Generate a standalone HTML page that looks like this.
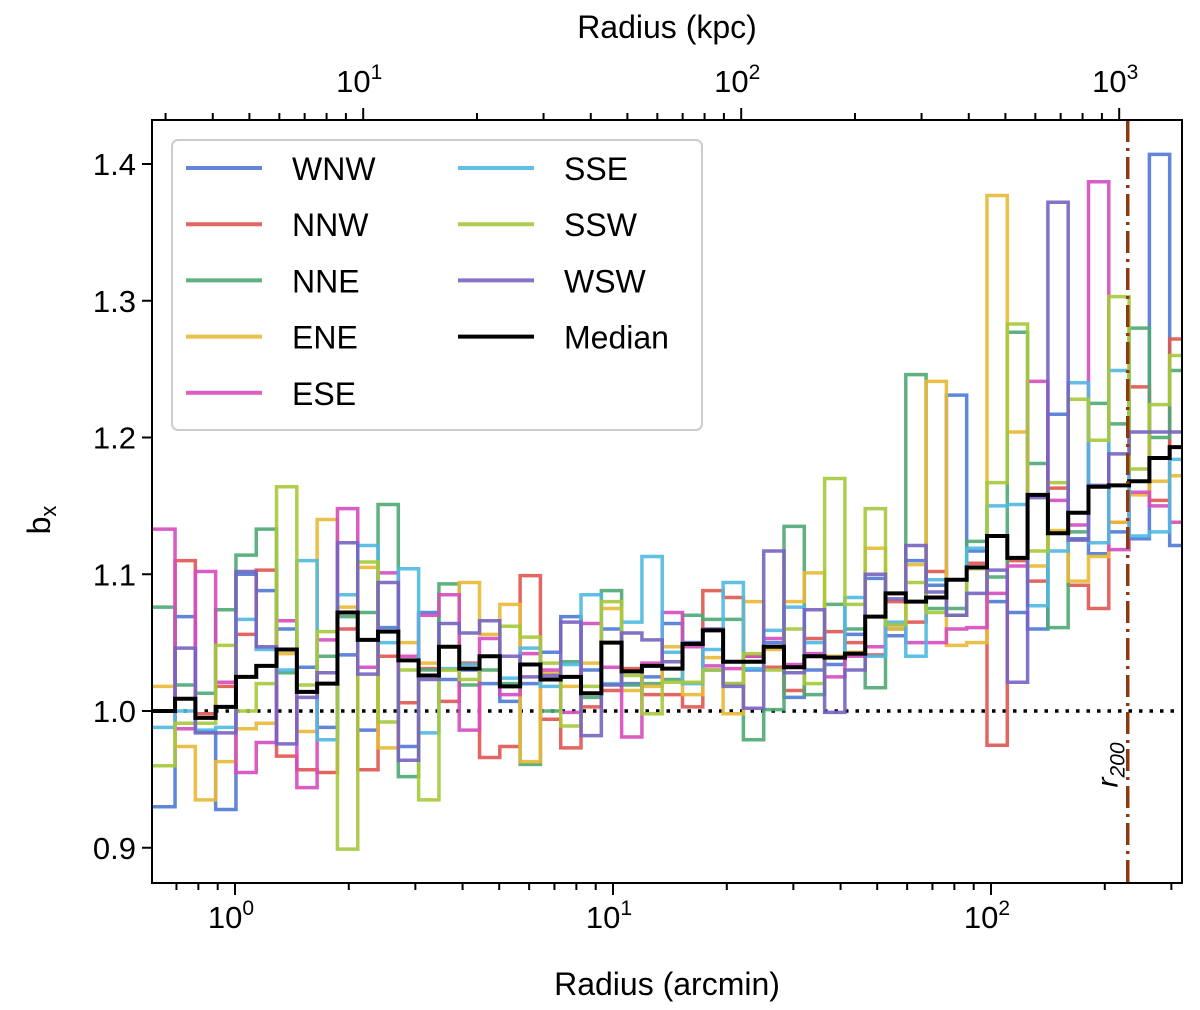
<!DOCTYPE html>
<html><head><meta charset="utf-8">
<style>
html,body{margin:0;padding:0;background:#fff;}
svg{display:block;font-family:"Liberation Sans",sans-serif;}
</style></head>
<body>
<svg id="chart" width="1200" height="1010" viewBox="0 0 1200 1010" xmlns="http://www.w3.org/2000/svg">
<defs><clipPath id="plotclip"><rect x="152" y="120" width="1030" height="763"/></clipPath></defs>
<g id="series" clip-path="url(#plotclip)"></g>
<g id="axes"></g>
</svg>
<script>
// bin edges (log10 arcmin)
const binStartLog = -0.266;
const binStepLog = 0.0537;
const nBins = 52;
const seriesNames = ["WNW","NNW","NNE","ENE","ESE","SSE","SSW","WSW","Median"];
const seriesColors = ["#4e79d4","#e0564f","#4ea874","#e9b935","#d54bbf","#4fb8e2","#a6c93a","#7763c0","#000000"];
const WNW = [0.93,0.93,1.069,0.985,0.928,1.10,1.088,1.06,1.032,0.988,1.041,0.986,1.061,0.974,1.072,1.023,1.03,1.02,1.007,1.02,1.043,1.069,1.03,1.06,1.02,1.025,1.064,1.05,1.03,1.02,1.03,1.05,1.01,1.03,1.034,1.056,1.097,1.055,1.11,1.092,1.231,1.117,1.08,1.072,1.06,1.217,1.126,1.115,1.131,1.126,1.407,1.121];
const NNW = [1.0,1.0,1.11,0.998,1.018,1.056,1.103,0.967,0.957,0.955,1.06,0.957,1.04,1.006,1.031,1.007,1.035,0.966,0.974,1.099,0.994,0.973,1.003,1.015,1.031,1.012,1.012,1.003,1.088,1.083,1.04,1.032,1.015,1.053,1.058,1.05,1.041,1.08,1.065,1.102,1.07,1.108,0.975,1.11,1.095,1.163,1.092,1.075,1.138,1.237,1.154,1.272];
const NNE = [1.076,1.076,1.019,1.013,1.074,1.114,1.133,1.028,1.014,1.04,1.069,1.072,1.151,0.952,1.03,1.093,1.019,1.03,1.02,0.961,1.0,1.036,1.01,1.088,1.019,1.02,1.023,1.07,1.067,1.067,0.979,1.001,1.135,1.012,1.078,1.06,1.017,1.06,1.246,1.075,1.075,1.124,1.098,1.277,1.181,1.061,1.131,1.225,1.21,1.28,1.2,1.249];
const ENE = [1.018,1.018,0.974,0.935,0.963,0.987,0.991,1.042,0.985,1.14,1.076,1.105,0.973,1.05,1.035,1.03,1.094,1.056,1.078,0.963,1.028,1.018,1.035,1.075,1.015,1.018,1.047,1.012,1.039,0.998,1.08,1.045,1.08,1.101,1.04,1.043,1.119,1.06,1.107,1.241,1.048,1.05,1.377,1.204,1.106,1.132,1.095,1.113,1.138,1.158,1.168,1.172];
const ESE = [1.133,1.133,0.987,1.102,1.021,0.955,0.977,1.066,0.944,1.052,1.148,1.032,1.101,1.04,1.07,1.085,0.986,1.053,1.012,1.042,1.03,0.999,1.064,1.032,0.981,1.035,1.072,1.047,1.033,1.031,1.04,1.053,1.034,1.042,1.025,1.04,1.047,1.063,1.05,1.05,1.06,1.061,1.086,1.106,1.241,1.154,1.136,1.387,1.118,1.16,1.15,1.138];
const SSE = [0.988,0.988,1.0,0.986,0.988,1.067,1.045,1.03,1.11,0.979,1.085,1.121,1.05,1.104,0.984,1.031,1.034,1.04,1.024,1.046,1.018,1.034,1.085,1.02,1.065,1.113,1.043,1.02,1.045,1.094,1.031,1.059,1.076,1.05,1.039,1.083,1.04,1.065,1.04,1.096,1.07,1.119,1.15,1.151,1.077,1.117,1.24,1.123,1.249,1.128,1.131,1.184];
const SSW = [0.96,0.96,0.991,0.991,1.048,1.0,1.02,1.164,1.019,1.058,0.899,1.109,0.992,1.03,0.935,1.03,1.023,1.04,1.062,1.054,1.035,0.989,1.018,1.08,1.026,0.998,1.021,1.021,1.03,1.02,1.042,1.03,1.06,1.02,1.17,1.078,1.148,1.063,1.094,1.072,1.07,1.104,1.167,1.283,1.117,1.167,1.228,1.198,1.303,1.177,1.224,1.26];
const WSW = [1.0,1.0,1.046,0.984,0.984,1.102,1.047,0.976,1.01,1.028,1.123,1.027,1.094,0.964,1.023,1.064,1.057,1.066,1.04,1.025,1.026,1.065,0.982,1.019,1.057,1.052,1.036,1.05,1.06,1.018,1.002,1.117,1.028,1.074,0.999,1.03,1.1,1.082,1.121,1.087,1.07,1.086,1.103,1.021,1.156,1.372,1.125,1.165,1.188,1.204,1.204,1.204];
const Median = [1.0,1.0,1.009,0.995,1.003,1.025,1.033,1.045,1.014,1.02,1.072,1.052,1.058,1.037,1.026,1.047,1.031,1.04,1.018,1.034,1.023,1.025,1.013,1.05,1.029,1.033,1.031,1.049,1.059,1.036,1.036,1.047,1.032,1.04,1.039,1.042,1.069,1.086,1.08,1.083,1.096,1.105,1.128,1.112,1.158,1.13,1.145,1.164,1.165,1.168,1.185,1.193];
const yTicks = [0.9,1.0,1.1,1.2,1.3,1.4];
const yTickLabels = ["0.9","1.0","1.1","1.2","1.3","1.4"];
const xMajorExps = [0,1,2];
const topMajorExps = [1,2,3];
const r200Arcmin = 230;
const kpcPerArcmin = 4.58;

const allSeries = [WNW,NNW,NNE,ENE,ESE,SSE,SSW,WSW,Median];
const NS = "http://www.w3.org/2000/svg";
const L = 152, R = 1182, T = 120, B = 883;
function xLog(lg){ return 235 + 378*lg; }
function xScale(a){ return xLog(Math.log10(a)); }
function yScale(v){ return 711 - (v-1.0)*1367.5; }
function mk(tag, attrs, parent){ const e=document.createElementNS(NS,tag); for(const k in attrs) e.setAttribute(k,attrs[k]); parent.appendChild(e); return e; }

const sg = document.getElementById('series');
const ag = document.getElementById('axes');

const ref = mk('line',{x1:L,x2:R,y1:yScale(1),y2:yScale(1),stroke:'#000','stroke-width':3.5,'stroke-dasharray':'3.5 7'},sg);



allSeries.forEach((vals,si)=>{
  let d='';
  for(let k=0;k<vals.length;k++){
    const x0 = xLog(binStartLog + binStepLog*k), x1 = xLog(binStartLog + binStepLog*(k+1));
    const y = yScale(vals[k]);
    d += (k===0 ? 'M'+x0+' '+y : 'V'+y) + ' H'+x1+' ';
  }
  const isMed = si===8;
  const p = mk('path',{d:d,fill:'none',stroke:seriesColors[si],'stroke-width':isMed?4:3.5,'stroke-opacity':isMed?1:0.9,'stroke-linejoin':'miter'},sg);
  
  
});

const rx = xScale(r200Arcmin);
const rl = mk('line',{x1:rx,x2:rx,y1:T,y2:B,stroke:'#8b3a0f','stroke-width':3.5,'stroke-dasharray':'22 6 3 6'},sg);


const rt = mk('text',{x:0,y:0,transform:'translate('+(rx-10)+',765) rotate(-90)','font-size':30,'font-style':'italic','text-anchor':'middle',fill:'#000'},ag);


rt.innerHTML = 'r<tspan font-size="21" dy="7">200</tspan>';

const fr = mk('rect',{x:L,y:T,width:R-L,height:B-T,fill:'none',stroke:'#000','stroke-width':2},ag);



yTicks.forEach((v,i)=>{
  const y=yScale(v);
  const t=mk('line',{x1:L-10,x2:L,y1:y,y2:y,stroke:'#000','stroke-width':2},ag);
  
  
  const tx=mk('text',{x:L-16,y:y+11,'font-size':31,'text-anchor':'end',fill:'#000'},ag);
  
  
  tx.textContent=yTickLabels[i];
});
for(let e=-1;e<=2;e++){
  for(let m=1;m<=9;m++){
    const a=m*Math.pow(10,e); const x=xScale(a);
    if(x<L-0.5||x>R+0.5) continue;
    const major = m===1;
    const t=mk('line',{x1:x,x2:x,y1:B,y2:B+(major?12:7),stroke:'#000','stroke-width':2},ag);
    
    
  }
}
xMajorExps.forEach(e=>{
  const x=xScale(Math.pow(10,e));
  const tx=mk('text',{x:x-4,y:928,'font-size':31,'text-anchor':'middle',fill:'#000'},ag);
  
  
  tx.innerHTML='10<tspan font-size="21" dy="-13">'+e+'</tspan>';
});
for(let e=0;e<=3;e++){
  for(let m=1;m<=9;m++){
    const k=m*Math.pow(10,e); const x=xScale(k/kpcPerArcmin);
    if(x<L-0.5||x>R+0.5) continue;
    const major=m===1;
    const t=mk('line',{x1:x,x2:x,y1:T,y2:T-(major?12:7),stroke:'#000','stroke-width':2},ag);
    
    
  }
}
topMajorExps.forEach(e=>{
  const x=xScale(Math.pow(10,e)/kpcPerArcmin);
  const tx=mk('text',{x:x-4,y:92,'font-size':31,'text-anchor':'middle',fill:'#000'},ag);
  
  
  tx.innerHTML='10<tspan font-size="21" dy="-13">'+e+'</tspan>';
});
const xt=mk('text',{x:667,y:995,'font-size':32,'text-anchor':'middle',fill:'#000'},ag);


xt.textContent='Radius (arcmin)';
const tt=mk('text',{x:667,y:38,'font-size':32,'text-anchor':'middle',fill:'#000'},ag);


tt.textContent='Radius (kpc)';
const yt=mk('text',{x:0,y:0,transform:'translate(50,520) rotate(-90)','font-size':32,'text-anchor':'middle',fill:'#000'},ag);


yt.innerHTML='b<tspan font-size="22" dy="6">x</tspan>';

const lg=mk('rect',{x:172,y:140,width:530,height:290,rx:6,fill:'#fff','fill-opacity':0.85,stroke:'#ccc','stroke-width':2},ag);


seriesNames.forEach((n,i)=>{
  const col = i<5?0:1, row = i<5?i:i-5;
  const lx = col===0?186:458, y = 168+row*56.2;
  const ln=mk('line',{x1:lx,x2:lx+76,y1:y,y2:y,stroke:seriesColors[i],'stroke-width':4,'stroke-opacity':i===8?1:0.9},ag);
  
  
  const tx=mk('text',{x:lx+106,y:y+12,'font-size':32,fill:'#000'},ag);
  
  
  tx.textContent=n;
});
</script>
</body></html>
